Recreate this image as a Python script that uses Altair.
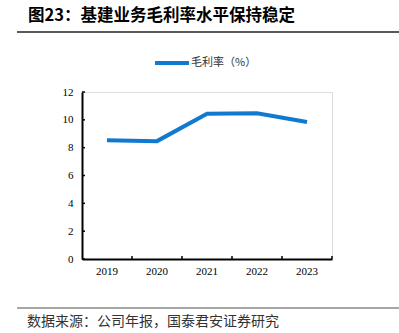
import altair as alt
import pandas as pd

years = ["2019", "2020", "2021", "2022", "2023"]
margin = [8.53, 8.47, 10.44, 10.47, 9.85]
y_ticks = [0, 2, 4, 6, 8, 10, 12]
title_text = "图23：基建业务毛利率水平保持稳定"
legend_label = "毛利率（%）"
source_text = "数据来源：公司年报，国泰君安证券研究"

W, H = 250, 167
L, T = 82, 92
BLUE = "#0F7ACF"
SERIF = "Liberation Serif"
CJK = "Noto Sans CJK SC"

df = pd.DataFrame({"year": years, "value": margin})
ticks_df = pd.DataFrame({"t": y_ticks})
one = pd.DataFrame({"a": [0]})

xscale = alt.Scale(domain=years, paddingInner=0, paddingOuter=0)
yscale = alt.Scale(domain=[0, 12], nice=False)
xaxis = alt.Axis(title=None, labelFont=SERIF, labelFontSize=11, labelColor="black",
                 labelAngle=0, domainColor="black", domainWidth=2,
                 ticks=False, tickSize=0, labelPadding=6)
yaxis = alt.Axis(title=None, values=y_ticks, labelFont=SERIF, labelFontSize=11,
                 labelColor="black", domainColor="black", domainWidth=2,
                 ticks=False, tickSize=0, labelPadding=9, grid=False)

line = alt.Chart(df).mark_line(strokeWidth=4, color=BLUE).encode(
    x=alt.X("year:N", sort=years, scale=xscale, axis=xaxis),
    y=alt.Y("value:Q", scale=yscale, axis=yaxis),
)

yt = alt.Chart(ticks_df).mark_rule(color="black", strokeWidth=1.5).encode(
    y=alt.Y("t:Q", scale=yscale, axis=yaxis),
    x=alt.value(0), x2=alt.value(3),
)

xt = alt.Chart(df).mark_rule(color="black", strokeWidth=1.5).encode(
    x=alt.X("year:N", sort=years, scale=xscale, bandPosition=1, axis=xaxis),
    y=alt.value(H), y2=alt.value(H - 3),
)

def txt(s, x, y, size, color="black", weight="normal", font=CJK):
    return alt.Chart(one).mark_text(align="left", baseline="middle", fontSize=size,
                                    font=font, fontWeight=weight, color=color).encode(
        x=alt.value(x), y=alt.value(y), text=alt.value(s))

def hrule(x1, x2, y, color, w):
    return alt.Chart(one).mark_rule(color=color, strokeWidth=w).encode(
        x=alt.value(x1), x2=alt.value(x2), y=alt.value(y))

title = txt(title_text, 28 - L, 16 - T, 16.5, weight="bold")
top_rule = hrule(17 - L, 399 - L, 32 - T, "#222222", 1.5)
bot_rule = hrule(17 - L, 399 - L, 308 - T, "#888888", 1.5)
source = txt(source_text, 27 - L, 322 - T, 14, color="#333333")
leg_line = hrule(155 - L, 189 - L, 63 - T, BLUE, 4)
leg_text = txt(legend_label, 191 - L, 63 - T, 11, color="#333333")

chart = alt.layer(line, yt, xt, title, top_rule, bot_rule, source, leg_line, leg_text).properties(
    width=W, height=H,
    autosize=alt.AutoSizeParams(type="none"),
    padding={"left": L, "top": T, "right": 399 - L - W, "bottom": 333 - T - H},
).configure_view(stroke=None).configure(background="white")

chart.save("out.html", embed_options={"renderer": "svg", "actions": False})
